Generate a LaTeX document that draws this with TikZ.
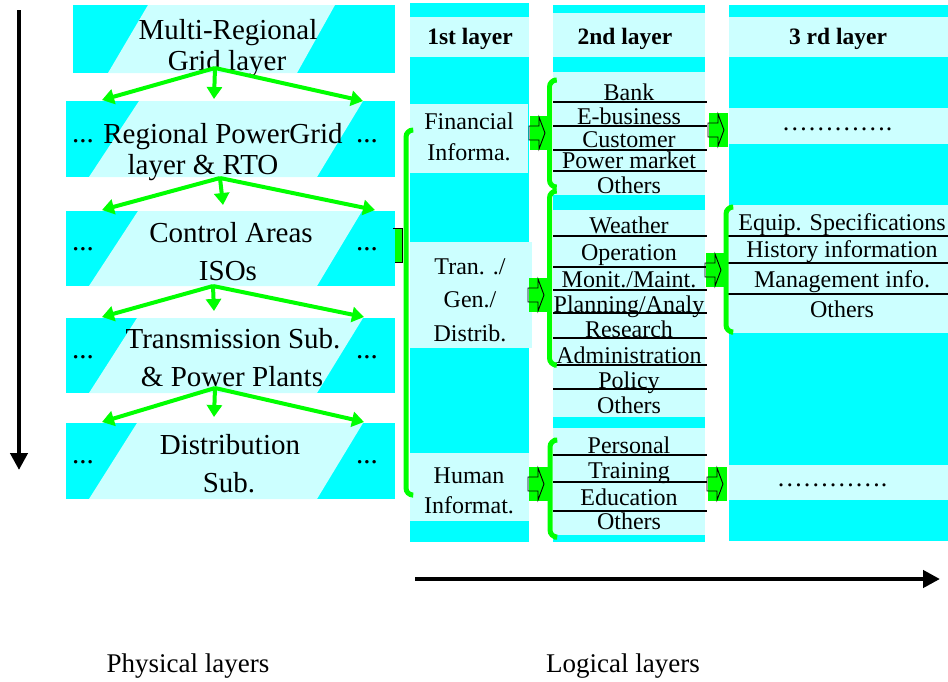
\documentclass[tikz,border=0pt]{standalone}
\usepackage{fontspec}
\setmainfont{Liberation Serif}
\usetikzlibrary{arrows.meta}
\definecolor{aqua}{HTML}{00FFFF}
\definecolor{pale}{HTML}{CCFFFF}
\definecolor{lime}{HTML}{00FF00}
\begin{document}
\begin{tikzpicture}[x=1pt,y=-1pt,
  box/.style={fill=aqua,draw=none,inner sep=0pt},
  ptxt/.style={anchor=base,inner sep=0pt,font=\fontsize{29}{29}\selectfont},
  ctxt/.style={anchor=base,inner sep=0pt,font=\fontsize{24}{24}\selectfont},
  htxt/.style={anchor=base,inner sep=0pt,font=\fontsize{23.5}{23.5}\selectfont\bfseries},
  btxt/.style={anchor=base,inner sep=0pt,font=\fontsize{27}{27}\selectfont},
  dtxt/.style={anchor=base,inner sep=0pt,font=\fontsize{26}{26}\selectfont},
  sep/.style={line width=1.1pt,black},
  flow/.style={lime,line width=4pt,-{Triangle[length=12pt,width=15pt]}},
  brace/.style={lime,line width=5pt,rounded corners=7pt},
  bigarrow/.style={black,line width=4.5pt,-{Triangle[length=17pt,width=17pt]}},
  blockarrow/.pic={
    \fill[lime] (-9,-17) rectangle (10,17);
    \draw[black,line width=0.9pt,line join=miter] (-10,-7) -- (0,-7) -- (0,-16) -- (6,0) -- (0,16) -- (0,7) -- (-10,7) -- cycle;
  }
]
\useasboundingbox (0,0) rectangle (948,681);

% ---------- physical layers ----------
\node[box,minimum width=322pt,minimum height=68pt] (P1) at (234,39) {};
\node[box,minimum width=329pt,minimum height=76pt] (P2) at (230.5,139) {};
\node[box,minimum width=329pt,minimum height=75pt] (P3) at (230.5,248.5) {};
\node[box,minimum width=329pt,minimum height=75pt] (P4) at (230.5,355.5) {};
\node[box,minimum width=329pt,minimum height=76pt] (P5) at (230.5,461) {};

\fill[pale] (108,73) -- (148,5) -- (335,5) -- (297,73) -- cycle;
\fill[pale] (89,177) -- (139,101) -- (363,101) -- (317,177) -- cycle;
\fill[pale] (89,286) -- (138,211) -- (362,211) -- (317,286) -- cycle;
\fill[pale] (89,393) -- (137,318) -- (363,318) -- (317,393) -- cycle;
\fill[pale] (89,499) -- (137,423) -- (363,423) -- (317,499) -- cycle;

\node[ptxt] (p1a) at (228,39) {Multi-Regional};
\node[ptxt] (p1b) at (227,70) {Grid layer};
\node[ptxt] (p2a) at (223,143) {Regional PowerGrid};
\node[ptxt] (p2b) at (203,174) {layer \& RTO};
\node[ptxt] (p3a) at (231,242) {Control Areas};
\node[ptxt] (p3b) at (228,280) {ISOs};
\node[ptxt] (p4a) at (233,348) {Transmission Sub.};
\node[ptxt] (p4b) at (232,386) {\& Power Plants};
\node[ptxt] (p5a) at (230,454) {Distribution};
\node[ptxt] (p5b) at (229,492) {Sub.};

\foreach \n/\y in {2/142,3/250,4/358,5/463}{
  \node[ptxt] (dl\n) at (83,\y) {...};
  \node[ptxt] (dr\n) at (367,\y) {...};
}

% fan-out connectors between physical layers
\coordinate (o1) at (215,68);
\coordinate (a2) at (102,100); \coordinate (b2) at (214,99);  \coordinate (c2) at (363,101);
\coordinate (o2) at (220,178);
\coordinate (a3) at (102,210); \coordinate (b3) at (223,205); \coordinate (c3) at (375,210);
\coordinate (o3) at (213,286);
\coordinate (a4) at (102,317); \coordinate (b4) at (214,311); \coordinate (c4) at (364,317);
\coordinate (o4) at (215,388);
\coordinate (a5) at (102,422); \coordinate (b5) at (214,417); \coordinate (c5) at (364,422);
\foreach \s/\t in {1/2,2/3,3/4,4/5}{
  \draw[flow] (o\s) -- (a\t);
  \draw[flow] (o\s) -- (b\t);
  \draw[flow] (o\s) -- (c\t);
}

% ---------- logical layers: columns ----------
\node[box,minimum width=119pt,minimum height=539pt] (L1) at (469.5,272.5) {};
\node[box,minimum width=152pt,minimum height=537pt] (L2) at (629,273.5) {};
\node[box,minimum width=219pt,minimum height=536pt] (L3) at (838.5,273) {};

\fill[pale] (410,17) rectangle (529,57);
\fill[pale] (410,104) rectangle (528,173);
\fill[pale] (410,242) rectangle (532,348);
\fill[pale] (410,453) rectangle (529,521);

\fill[pale] (553,13) rectangle (705,57);
\fill[pale] (553,72) rectangle (705,195);
\fill[pale] (553,210) rectangle (705,417);
\fill[pale] (553,428) rectangle (705,535);

\fill[pale] (729,17) rectangle (948,57);
\fill[pale] (729,108) rectangle (948,144);
\fill[pale] (729,205) rectangle (948,333);
\fill[pale] (729,465) rectangle (948,500);

% item separators
\foreach \y in {102,126,150,171,236,267,290,313,338,365,389,455,482,511}
  \draw[sep] (553,\y) -- (707,\y);
\foreach \y in {236,263,294}
  \draw[sep] (727,\y) -- (948,\y);

% green brackets grouping items
\draw[brace] (412,130) -- (406,130) -- (406,495) -- (412,495);
\draw[brace] (554,80) -- (549.5,80) -- (549.5,187) -- (554,187);
\draw[brace] (554,191) -- (549.5,191) -- (549.5,365) -- (554,365);
\draw[brace] (554,440) -- (550,440) -- (550,537) -- (554,537);
\draw[brace] (731,207) -- (726,207) -- (726,332) -- (731,332);

% tab from control areas into the logical layers
\fill[lime] (395,228) rectangle (402,262);
\draw[black,line width=0.9pt] (393,228) -- (402,228) -- (402,262) -- (395,262);

% block arrows between layers
\pic at (539,133) {blockarrow};
\pic at (538,295) {blockarrow};
\pic at (538,484) {blockarrow};
\pic at (718,130) {blockarrow};
\pic at (715,270) {blockarrow};
\pic at (717,484) {blockarrow};

% column texts
\node[htxt] (h1) at (470,44) {1st layer};
\node[htxt] (h2) at (625,44) {2nd layer};
\node[htxt] (h3) at (838,44) {3 rd layer};

\node[ctxt] (f1) at (469,129) {Financial};
\node[ctxt] (f2) at (469,160) {Informa.};
\node[ctxt] (t1) at (470,274) {Tran. ./};
\node[ctxt] (t2) at (470,307) {Gen./};
\node[ctxt] (t3) at (470,341) {Distrib.};
\node[ctxt] (u1) at (469,483) {Human};
\node[ctxt] (u2) at (469,513) {Informat.};

\node[ctxt] (g1) at (629,100) {Bank};
\node[ctxt] (g2) at (629,124) {E-business};
\node[ctxt] (g3) at (629,147) {Customer};
\node[ctxt] (g4) at (629,168) {Power market};
\node[ctxt] (g5) at (629,193) {Others};

\node[ctxt] (k1) at (629,233) {Weather};
\node[ctxt] (k2) at (629,260) {Operation};
\node[ctxt] (k3) at (629,287) {Monit./Maint.};
\node[ctxt] (k4) at (629,312) {Planning/Analy};
\node[ctxt] (k5) at (629,337) {Research};
\node[ctxt] (k6) at (629,363) {Administration};
\node[ctxt] (k7) at (629,388) {Policy};
\node[ctxt] (k8) at (629,413) {Others};

\node[ctxt] (m1) at (629,453) {Personal};
\node[ctxt] (m2) at (629,478) {Training};
\node[ctxt] (m3) at (629,505) {Education};
\node[ctxt] (m4) at (629,529) {Others};

\node[dtxt] (x1) at (837,130) {………….};
\node[ctxt] (e1) at (842,230) {Equip. Specifications};
\node[ctxt] (e2) at (842,257) {History information};
\node[ctxt] (e3) at (842,287) {Management info.};
\node[ctxt] (e4) at (842,317) {Others};
\node[dtxt] (x2) at (832,486) {………….};

% axes
\coordinate (vtop) at (19,10);
\coordinate (vbot) at (19,470);
\draw[bigarrow] (vtop) -- (vbot);
\coordinate (hl) at (415,579);
\coordinate (hr) at (940,579);
\draw[bigarrow] (hl) -- (hr);

\node[btxt] (phys) at (188,672) {Physical layers};
\node[btxt] (logi) at (623,672) {Logical layers};
\end{tikzpicture}
\end{document}
